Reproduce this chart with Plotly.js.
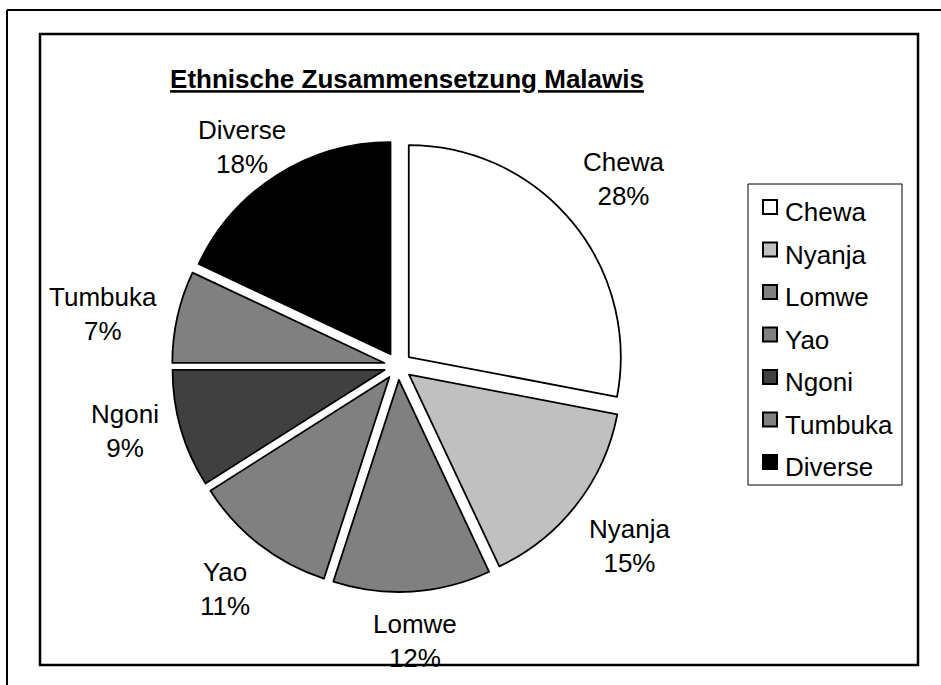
<!DOCTYPE html>
<html>
<head>
<meta charset="utf-8">
<script src="https://cdn.plot.ly/plotly-3.0.1.min.js"></script>
<style>html,body{margin:0;padding:0;background:#fff;}#chart{width:941px;height:685px;}</style>
</head>
<body>
<div id="chart"></div>
<script>
// ---- data ----
const categories = ["Chewa", "Nyanja", "Lomwe", "Yao", "Ngoni", "Tumbuka", "Diverse"];
const shares = [28, 15, 12, 11, 9, 7, 18];
const sliceColors = ["#ffffff", "#c0c0c0", "#808080", "#808080", "#404040", "#808080", "#000000"];

// ---- layout constants ----
const W = 941, H = 685;
const FONT = '"Liberation Sans", Arial, sans-serif';
const LABEL_SIZE = 26;
const pieDomain = {x: [172 / W, 624 / W], y: [93 / H, 545 / H]};
const pullFrac = 0.066;
const labelTopLimit = 147;   // label centres stay below the title band

// pixel helpers -> paper coords (margins are zero)
const px = v => v / W;
const py = v => 1 - v / H;

// measure text widths for label placement
const cvs = document.createElement('canvas');
const ctx = cvs.getContext('2d');
ctx.font = LABEL_SIZE + 'px "Liberation Sans", Arial, sans-serif';

const total = shares.reduce((a, b) => a + b, 0);
const cx = (pieDomain.x[0] + pieDomain.x[1]) / 2 * W;
const cy = (1 - (pieDomain.y[0] + pieDomain.y[1]) / 2) * H;

const annotations = [];
let cum = 0;
categories.forEach((lab, i) => {
  const pct = Math.round(shares[i] / total * 100) + '%';
  const mid = (cum + shares[i] / 2) / total * 2 * Math.PI;
  cum += shares[i];
  const dx = Math.sin(mid), dy = -Math.cos(mid);
  const hw = Math.max(ctx.measureText(lab).width, ctx.measureText(pct).width) / 2;
  const hh = 30;
  const d = 243 + Math.abs(dx) * hw + Math.abs(dy) * hh;
  const flat = 1 - 0.25 * Math.min(1, Math.max(0, (Math.abs(dx) - 0.85) / 0.15));
  const lx = cx + dx * d;
  const ly = Math.max(cy + dy * d * flat, labelTopLimit);
  annotations.push({
    xref: 'paper', yref: 'paper',
    x: px(lx), y: py(ly),
    xanchor: 'center', yanchor: 'middle',
    text: lab + '<br>' + pct, showarrow: false,
    font: {family: FONT, size: LABEL_SIZE, color: '#000'}
  });
});

// manual legend (Excel style)
const shapes = [];
const legStep = 42.5, legFirst = 212;
shapes.push({type: 'rect', xref: 'paper', yref: 'paper',
  x0: px(748), x1: px(902), y0: py(184), y1: py(485),
  line: {color: '#000', width: 1}, fillcolor: 'rgba(0,0,0,0)'});
categories.forEach((lab, i) => {
  const yc = legFirst + i * legStep;
  shapes.push({type: 'rect', xref: 'paper', yref: 'paper',
    x0: px(763), x1: px(777), y0: py(yc - 12), y1: py(yc + 2),
    line: {color: '#000', width: 2}, fillcolor: sliceColors[i]});
  annotations.push({xref: 'paper', yref: 'paper', x: px(783), y: py(yc),
    xanchor: 'left', yanchor: 'middle', text: lab, showarrow: false,
    font: {family: FONT, size: LABEL_SIZE, color: '#000'}});
});

// frames
shapes.push({type: 'line', xref: 'paper', yref: 'paper', x0: px(7), x1: px(7), y0: py(10), y1: py(700), line: {color: '#000', width: 2}});
shapes.push({type: 'line', xref: 'paper', yref: 'paper', x0: px(7), x1: px(960), y0: py(10), y1: py(10), line: {color: '#000', width: 2}});
shapes.push({type: 'rect', xref: 'paper', yref: 'paper', x0: px(40), x1: px(918), y0: py(34), y1: py(665), line: {color: '#000', width: 2.5}, fillcolor: 'rgba(0,0,0,0)'});

const trace = {
  type: 'pie',
  labels: categories,
  values: shares,
  sort: false,
  direction: 'clockwise',
  rotation: 0,
  pull: shares.map(() => pullFrac),
  marker: {colors: sliceColors, line: {color: '#000', width: 1.8}},
  textinfo: 'none',
  hoverinfo: 'none',
  showlegend: false,
  domain: pieDomain
};

const layout = {
  width: W, height: H,
  margin: {l: 0, r: 0, t: 0, b: 0, pad: 0},
  paper_bgcolor: '#fff', plot_bgcolor: '#fff',
  showlegend: false,
  title: {
    text: 'Ethnische Zusammensetzung Malawis',
    x: px(407), xanchor: 'center', xref: 'paper',
    y: py(79), yanchor: 'middle', yref: 'container',
    font: {family: FONT, size: 26, color: '#000', weight: 'bold', lineposition: 'under'}
  },
  shapes: shapes,
  annotations: annotations
};

Plotly.newPlot('chart', [trace], layout, {displayModeBar: false, staticPlot: true});
</script>
</body>
</html>
